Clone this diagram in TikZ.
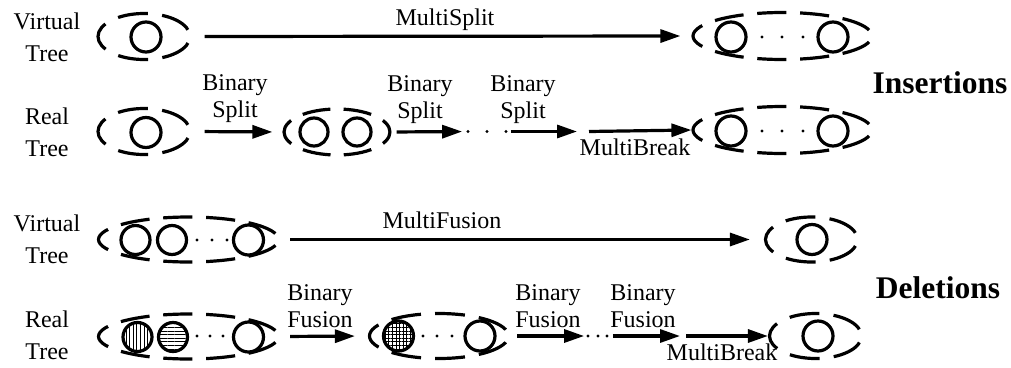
\documentclass[tikz,border=0pt]{standalone}
\usepackage{fontspec}
\setmainfont{Liberation Serif}
\usetikzlibrary{shapes.geometric,arrows.meta,patterns.meta}

\tikzset{
  arr/.style={line width=3.2pt, -{Triangle[length=20pt,width=13pt]}},
  circ/.style={circle, draw, line width=3.2pt, inner sep=0pt, minimum size=#1},
  circ/.default=29pt,
  dotnode/.style={circle, fill, inner sep=0pt, minimum size=3.4pt},
  lbl/.style={font=\fontsize{24}{27}\selectfont, align=center, inner sep=0pt, anchor=base},
  tlbl/.style={font=\fontsize{24}{32}\selectfont, align=center, inner sep=0pt, anchor=base},
  ttl/.style={font=\fontsize{31.5}{36}\selectfont\bfseries, inner sep=0pt, anchor=base},
}

% dashed ellipse node: name, x, y, rx, ry, number of dashes, phase fraction
\newcommand\dashell[7]{%
  \pgfmathsetmacro\dlPer{pi*(3*(#4+#5)-sqrt(3*#4+#5)*sqrt(#4+3*#5))/#6}%
  \pgfmathsetmacro\dlOn{0.68*\dlPer}%
  \pgfmathsetmacro\dlOff{\dlPer-\dlOn}%
  \pgfmathsetmacro\dlPh{#7*\dlPer}%
  \pgfmathsetmacro\dlW{2*#4}%
  \pgfmathsetmacro\dlH{2*#5}%
  \node[ellipse, draw, line width=3.2pt, inner sep=0pt,
        minimum width=\dlW pt, minimum height=\dlH pt,
        dash pattern=on \dlOn pt off \dlOff pt, dash phase=\dlPh pt] (#1) at (#2,#3) {};%
}

\begin{document}
\begin{tikzpicture}[x=1pt,y=-1pt]
\useasboundingbox (0,0) rectangle (1011,367);

% ---------------- Row 1: Virtual tree, insertions ----------------
\node[tlbl] (lv1) at (47,61) {Virtual\\Tree};
\dashell{e1}{144}{36.5}{46}{23}{5}{0.84}
\node[circ=30pt] (c1) at (146,37) {};
\dashell{e2}{782.5}{36}{89.5}{23.5}{9}{0.84}
\node[circ=30pt] (c2a) at (731,37) {};
\node[circ=30pt] (c2b) at (833,37) {};
\node[dotnode] (d1a) at (762,37) {};
\node[dotnode] (d1b) at (782,37) {};
\node[dotnode] (d1c) at (803,37) {};
\draw[arr, shorten <=13pt, shorten >=11pt] (e1.east) -- (e2.west);
\node[lbl] (tms) at (445,25) {MultiSplit};

% ---------------- Row 2: Real tree, insertions ----------------
\node[tlbl] (lr1) at (47,156) {Real\\Tree};
\dashell{e3}{144}{131.5}{46}{23}{5}{0.84}
\node[circ=30pt] (c3) at (146,132.5) {};
\dashell{e4}{337}{132}{53}{23}{6}{0.34}
\node[circ=28pt] (c4a) at (314,132) {};
\node[circ=28pt] (c4b) at (357,132) {};
\node[dotnode] (d2a) at (468,131.5) {};
\node[dotnode] (d2b) at (487,131.5) {};
\node[dotnode] (d2c) at (506,131.5) {};
\coordinate (p2) at (577,131.5);
\coordinate (m2) at (589,131.5);
\dashell{e5}{782.5}{130}{89.5}{23.5}{9}{0.84}
\node[circ=30pt] (c5a) at (731,131) {};
\node[circ=30pt] (c5b) at (833,131) {};
\node[dotnode] (d5a) at (762,131) {};
\node[dotnode] (d5b) at (782,131) {};
\node[dotnode] (d5c) at (803,131) {};
\draw[arr, shorten <=13pt, shorten >=10pt] (e3.east) -- (e4.west);
\draw[arr, shorten <=5pt, shorten >=4pt] (e4.east) -- (d2a);
\draw[arr, shorten <=3pt] (d2c) -- (p2);
\draw[arr] (m2) -- (e5.west);
\node[lbl] (tbs1) at (235,117) {Binary\\Split};
\node[lbl] (tbs2) at (420,118) {Binary\\Split};
\node[lbl] (tbs3) at (523,118) {Binary\\Split};
\node[lbl] (tmb1) at (635,155) {MultiBreak};
\node[ttl] (tins) at (940,93) {Insertions};

% ---------------- Row 3: Virtual tree, deletions ----------------
\node[tlbl] (lv2) at (47,263) {Virtual\\Tree};
\dashell{e6}{188.5}{239.5}{90}{22.5}{9}{0.84}
\node[circ=29pt] (c6a) at (135.5,240) {};
\node[circ=29pt] (c6b) at (172,240) {};
\node[circ=30pt] (c6c) at (248.5,240) {};
\node[dotnode] (d6a) at (197,240) {};
\node[dotnode] (d6b) at (212,240) {};
\node[dotnode] (d6c) at (227,240) {};
\dashell{e7}{811.5}{239.5}{46}{22.5}{5}{0.84}
\node[circ=30pt] (c7) at (812,239.5) {};
\draw[arr, shorten <=10pt, shorten >=14pt] (e6.east) -- (e7.west);
\node[lbl] (tmf) at (442,228) {MultiFusion};

% ---------------- Row 4: Real tree, deletions ----------------
\node[tlbl] (lr2) at (47,359) {Real\\Tree};
\dashell{e8}{188.5}{336.5}{90}{22.5}{9}{0.84}
\node[circ=29pt, pattern={Lines[angle=90,distance=3.6pt,line width=1pt]}] (c8a) at (137.5,337) {};
\node[circ=29pt, pattern={Lines[angle=0,distance=3.6pt,line width=1pt]}] (c8b) at (173,337) {};
\node[circ=30pt] (c8c) at (248.5,337) {};
\node[dotnode] (d8a) at (197,336) {};
\node[dotnode] (d8b) at (210,336) {};
\node[dotnode] (d8c) at (223,336) {};
\dashell{e9}{439}{336}{69.5}{22.5}{7}{0.84}
\node[circ=30pt, pattern={Hatch[distance=3.6pt,line width=1pt]}] (c9a) at (398.5,336) {};
\node[circ=30pt] (c9b) at (480,336) {};
\node[dotnode] (d9a) at (423,336) {};
\node[dotnode] (d9b) at (437,336) {};
\node[dotnode] (d9c) at (452,336) {};
\node[dotnode] (d4a) at (588,336) {};
\node[dotnode] (d4b) at (598,336) {};
\node[dotnode] (d4c) at (607,336) {};
\coordinate (p4) at (680,336);
\coordinate (m4) at (686,336);
\dashell{e10}{815.5}{336}{46}{22.5}{5}{0.84}
\node[circ=30pt] (c10) at (818,336) {};
\draw[arr, shorten <=10pt, shorten >=13pt] (e8.east) -- (e9.west);
\draw[arr, shorten <=7pt, shorten >=2pt] (e9.east) -- (d4a);
\draw[arr, shorten <=4pt] (d4c) -- (p4);
\draw[arr] (m4) -- (e10.west);
\node[lbl] (tbf1) at (320,327) {Binary\\Fusion};
\node[lbl] (tbf2) at (548,327) {Binary\\Fusion};
\node[lbl] (tbf3) at (643,327) {Binary\\Fusion};
\node[lbl] (tmb2) at (722,360) {MultiBreak};
\node[ttl] (tdel) at (938,298) {Deletions};
\end{tikzpicture}
\end{document}
